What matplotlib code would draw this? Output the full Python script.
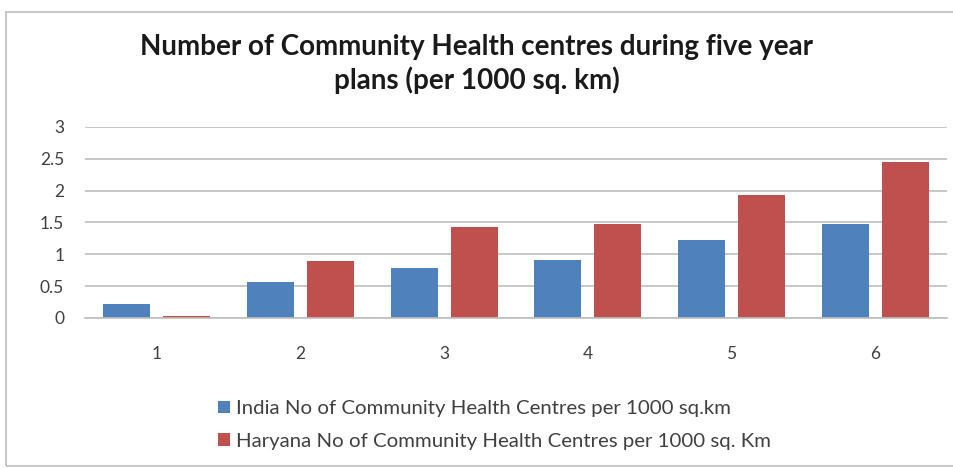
import matplotlib
matplotlib.use("Agg")
import matplotlib.pyplot as plt
from matplotlib.patches import Rectangle
import numpy as np

categories = ["1", "2", "3", "4", "5", "6"]
india = [0.22, 0.57, 0.79, 0.91, 1.23, 1.47]
haryana = [0.03, 0.90, 1.43, 1.47, 1.93, 2.45]
y_ticks = [0, 0.5, 1, 1.5, 2, 2.5, 3]
y_tick_labels = ["0", "0.5", "1", "1.5", "2", "2.5", "3"]
series_labels = [
    "India No of Community Health Centres per 1000 sq.km",
    "Haryana No of Community Health Centres per 1000 sq. Km",
]
title = "Number of Community Health centres during five year\nplans (per 1000 sq. km)"

blue = "#4F81BD"
red = "#C0504D"
text_col = "#404040"
font = ["Lato", "DejaVu Sans"]

W, H = 954, 468
fig = plt.figure(figsize=(W / 100, H / 100), dpi=100)
fig.patch.set_facecolor("white")

# chart frame
fig.patches.append(Rectangle((6 / W, 2 / H), (W - 4) / W, (H - 14) / H,
                             transform=fig.transFigure, fill=False,
                             edgecolor="#C8C8C8", linewidth=1.5))

ax = fig.add_axes([85 / W, (H - 318) / H, 862 / W, 191 / H])
x = np.arange(len(categories))
off, bw = 0.209, 0.327
b1 = ax.bar(x - off, india, bw, color=blue, label=series_labels[0])
b2 = ax.bar(x + off, haryana, bw, color=red, label=series_labels[1])

ax.set_xlim(-0.5, len(categories) - 0.5)
ax.set_ylim(0, 3)
ax.set_yticks(y_ticks)
ax.set_yticklabels(y_tick_labels)
ax.set_xticks(x)
ax.set_xticklabels(categories)
ax.yaxis.grid(True, color="#BFBFBF", linewidth=1.2)
ax.set_axisbelow(True)
for s in ["left", "right", "top"]:
    ax.spines[s].set_visible(False)
ax.spines["bottom"].set_color("#BFBFBF")
ax.spines["bottom"].set_linewidth(1.2)
ax.tick_params(axis="both", length=0, labelsize=12.5, colors=text_col)
ax.tick_params(axis="y", pad=15)
ax.tick_params(axis="x", pad=20)
for lab in ax.get_xticklabels() + ax.get_yticklabels():
    lab.set_family(font)

fig.text(477 / W, 1 - 64 / H, title, ha="center", va="center",
         fontsize=20, fontweight="bold", family=font, color="#1a1a1a",
         linespacing=1.25)

leg = fig.legend(handles=[b1, b2], loc="center left",
                 bbox_to_anchor=(200 / W, 1 - 425 / H), frameon=False,
                 prop={"family": font, "size": 14.7}, handlelength=0.55,
                 handleheight=0.55, handletextpad=0.3, labelspacing=0.75,
                 labelcolor=text_col)

fig.savefig("out.png", dpi=100)
